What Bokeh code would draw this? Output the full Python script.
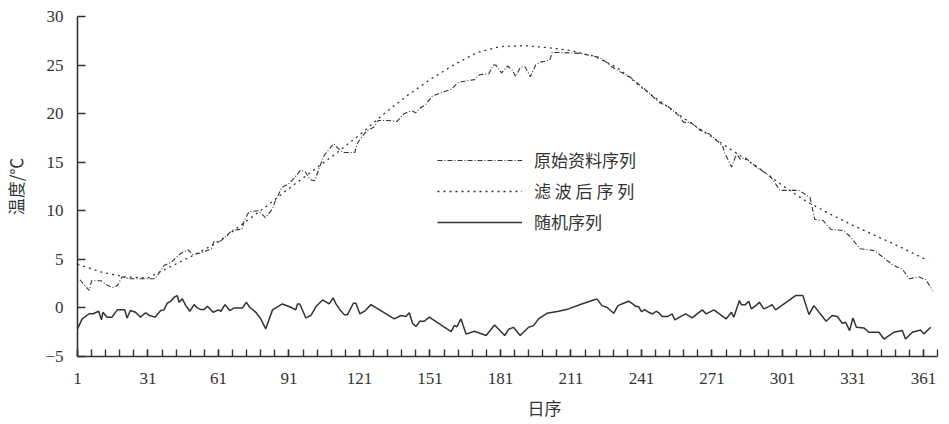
from bokeh.plotting import figure
from bokeh.models import Range1d, FixedTicker, Legend, LegendItem, Title
from bokeh.embed import file_html
from bokeh.resources import INLINE

# ---- data ----
orig_pts = [(2, 2.9), (6, 1.8), (7, 2.8), (11, 2.8), (14, 2.3), (16, 2.1), (18, 2.3), (20, 3.2),
            (23, 3.0), (28, 3.0), (34, 3.0), (38, 4.4), (41, 4.7), (43, 5.2), (45, 5.6), (48, 6.0),
            (50, 5.5), (54, 5.7), (58, 6.1), (59, 6.8), (62, 6.9), (67, 8.0), (71, 8.1), (72, 9.0),
            (74, 9.9), (78, 10.0), (81, 9.3), (84, 10.2), (85, 10.9), (88, 12.4), (91, 12.8), (93, 13.3),
            (96, 14.2), (98, 14.0), (100, 13.2), (102, 13.1), (104, 14.5), (106, 15.7), (110, 16.9),
            (112, 16.4), (114, 16.0), (119, 16.0), (120, 16.9), (122, 17.6), (124, 18.2), (127, 18.6),
            (129, 19.3), (133, 19.3), (137, 19.2), (140, 20.0), (143, 20.3), (145, 20.1), (147, 20.6),
            (149, 20.9), (152, 21.8), (156, 22.2), (160, 22.5), (163, 23.2), (167, 23.4), (170, 23.5),
            (172, 24.0), (176, 24.1), (178, 25.0), (179, 25.0), (181.5, 24.2), (184, 24.9), (186, 24.5),
            (187.5, 23.8), (189.5, 24.8), (191.5, 24.8), (193.7, 23.8), (196, 25.0), (198, 25.3),
            (202, 25.5), (203, 26.3), (206, 26.3), (215, 26.2), (223, 25.8), (226, 25.3), (228.5, 24.8),
            (232, 24.3), (236, 23.8), (242, 22.6), (247.5, 21.4), (249, 21.1), (252, 20.8), (257, 19.8),
            (259, 19.1), (262, 19.1), (266, 18.3), (270, 17.9), (275.5, 16.7), (276.5, 15.9),
            (279.4, 14.5), (281.5, 15.9), (283, 15.3), (285, 15.5), (290, 14.5), (296, 13.5),
            (300, 12.1), (304, 12.1), (308, 12.1), (312.7, 11.4), (314.8, 9.1), (318.3, 9.0),
            (321.5, 8.1), (327, 7.97), (330, 7.3), (334, 6.1), (340, 5.9), (344, 5.2), (348, 4.4),
            (352, 4.0), (355, 3.0), (359, 3.2), (362, 2.9), (365, 1.8)]

filt_days = [1, 11, 21, 31, 41, 51, 61, 71, 81, 91, 101, 111, 121, 131, 141, 151, 161, 171, 181,
             191, 201, 211, 221, 231, 241, 251, 261, 271, 281, 291, 301, 311, 321, 331, 341, 351, 361, 363]
filt_vals = [4.5, 3.7, 3.2, 3.1, 4.3, 5.5, 6.8, 8.6, 10.4, 12.3, 14.1, 15.9, 17.8, 19.9, 21.8, 23.5,
             25.0, 26.3, 26.9, 27.0, 26.8, 26.5, 25.9, 24.7, 22.7, 20.9, 19.2, 17.6, 16.0, 14.4, 12.6,
             11.0, 9.7, 8.5, 7.4, 6.3, 5.1, 4.9]

rand_pts = [(1, -2.15), (3, -1.12), (6, -0.6), (7.7, -0.6), (10, -0.34), (11.2, -1.23), (11.8, -0.45),
            (13.6, -0.95), (15.7, -0.95), (17.9, -0.2), (21.1, -0.2), (22.1, -1.03), (23.5, -0.27),
            (25.7, -0.44), (27.8, -0.95), (30, -0.5), (31.4, -0.75), (34, -0.95), (36.4, -0.27),
            (37.8, -0.2), (39.2, 0.48), (40.7, 0.69), (42.1, 1.1), (43.5, 1.27), (44.2, 0.58),
            (45.6, 0.93), (47.1, 0.24), (48.8, -0.34), (50.6, 0.34), (52, 0.0), (53.5, -0.17),
            (54.9, -0.17), (56.3, 0.17), (58.7, -0.45), (61, -0.2), (62, -0.34), (63.8, 0.34),
            (65.8, -0.27), (67.7, 0.0), (71.2, 0.0), (72.9, 0.58), (74.3, 0.07), (76.9, -0.45),
            (79, -1.13), (81.1, -2.15), (84, -0.2), (88.2, 0.41), (91.8, 0.07), (93.9, -0.2),
            (94.6, 0.41), (95.6, 0.41), (98.2, -1.03), (100.3, -0.78), (102.5, 0.14), (105.3, 0.82),
            (108.1, 0.41), (109.8, 1.03), (111, 0.41), (112.4, -0.1), (114.5, -0.69), (115.9, -0.69),
            (118.4, 0.48), (119.5, 0.48), (121.2, -0.62), (123.5, -0.27), (125.9, 0.34), (135.8, -1.13),
            (138.7, -0.78), (140.8, -0.89), (142.2, -0.5), (143.6, -1.57), (145, -1.92), (146.7, -1.37),
            (148.6, -1.37), (150.7, -0.95), (160, -2.45), (161.4, -1.8), (162.4, -1.96), (164.2, -1.13),
            (166.4, -2.7), (169.9, -2.4), (174.9, -2.84), (178.5, -1.75), (182.8, -2.84), (184.5, -2.2),
            (186.5, -2.0), (187.9, -2.4), (189.4, -2.84), (190.8, -2.5), (193, -1.99), (195.1, -1.82),
            (197.2, -1.13), (200.8, -0.55), (205.7, -0.34), (210, -0.1), (215.6, 0.41), (221.3, 0.86),
            (222, 0.93), (224.2, 0.24), (226.3, 0.07), (229.2, -0.55), (231, 0.24), (233.4, 0.48),
            (235.6, 0.69), (237.7, 0.34), (238.7, 0.14), (239.8, 0.14), (241, -0.38), (242.4, -0.17),
            (244.1, -0.45), (245.8, -0.62), (247.3, -0.34), (248.4, -0.5), (249.8, -0.89), (252, -0.89),
            (254.1, -0.62), (255.2, -1.23), (257.6, -0.89), (259.8, -0.62), (262.6, -1.03), (264.7, -0.62),
            (266.9, -0.2), (268.6, -0.62), (271.8, -0.2), (274.6, -0.69), (277, -1.13), (279.3, -0.45),
            (280.3, -0.95), (282.7, 0.76), (283.5, 0.34), (285.2, 0.34), (286.7, 0.69), (287.8, -0.1),
            (290.2, 0.34), (291.2, 0.58), (293.1, -0.1), (295.2, 0.14), (296.6, 0.34), (298.1, -0.2),
            (306.6, 1.27), (309.7, 1.27), (312.3, -0.69), (314.4, 0.24), (319.6, -1.37), (322.2, -0.78),
            (324.3, -0.89), (326.5, -1.57), (327.9, -1.47), (329.6, -2.33), (331, -1.03), (332.5, -1.99),
            (335.7, -2.06), (337.8, -2.5), (342.1, -2.5), (344.2, -3.2), (348.5, -2.5), (352, -2.33),
            (353.4, -3.2), (356.3, -2.5), (359.8, -2.27), (361.2, -2.67), (364.1, -1.99)]

x_label_ticks = [1, 31, 61, 91, 121, 151, 181, 211, 241, 271, 301, 331, 361]
x_minor_ticks = list(range(1, 368, 6))
y_ticks = [-5, 0, 5, 10, 15, 20, 25, 30]
series_names = ["原始资料序列", "滤 波 后 序 列", "随机序列"]
x_title = "日序"
y_title = "温度/℃"

orig_days = [d for d, v in orig_pts]
orig_vals = [v for d, v in orig_pts]
rand_days = [d for d, v in rand_pts]
rand_vals = [v for d, v in rand_pts]

INK = "#333333"
SERIF = "serif"
CJK = "Noto Sans CJK SC"

p = figure(frame_width=860, frame_height=340, output_backend="svg", toolbar_location=None,
           x_range=Range1d(1, 367), y_range=Range1d(-5, 30),
           min_border_left=70, min_border_right=3, min_border_top=16, min_border_bottom=30)
p.grid.visible = False
p.outline_line_color = None
p.background_fill_color = "white"

r_orig = p.line(orig_days, orig_vals, line_color=INK, line_width=1.1, line_dash="5 2 1 2")
r_filt = p.line(filt_days, filt_vals, line_color=INK, line_width=1.3, line_dash="2 4")
r_rand = p.line(rand_days, rand_vals, line_color=INK, line_width=1.5)

for ax in (p.xaxis[0], p.yaxis[0]):
    ax.axis_line_color = INK
    ax.axis_line_width = 1.6
    ax.major_tick_line_color = INK
    ax.major_tick_line_width = 1.4
    ax.minor_tick_line_color = INK
    ax.minor_tick_line_width = 1.4
    ax.major_tick_out = 0
    ax.minor_tick_out = 0
    ax.major_label_text_font = SERIF
    ax.major_label_text_font_size = "17px"
    ax.major_label_text_color = INK

xa = p.xaxis[0]
xa.ticker = FixedTicker(ticks=x_label_ticks, minor_ticks=x_minor_ticks)
xa.major_tick_in = 7
xa.minor_tick_in = 7
xa.major_label_standoff = 16

ya = p.yaxis[0]
ya.ticker = FixedTicker(ticks=y_ticks, minor_ticks=[])
ya.major_tick_in = 8
ya.minor_tick_in = 0
ya.major_label_standoff = 14
ya.major_label_overrides = {-5: "\u22125"}
ya.axis_label = y_title
ya.axis_label_text_font = CJK
ya.axis_label_text_font_size = "17px"
ya.axis_label_text_font_style = "normal"
ya.axis_label_text_color = INK
ya.axis_label_standoff = 14

# x-axis title, a little right of the centre as in the original
p.add_layout(Title(text=x_title, align="left", offset=450, text_font=CJK,
                   text_font_size="17px", text_font_style="normal", text_color=INK,
                   standoff=12), "below")

legend = Legend(items=[LegendItem(label=series_names[0], renderers=[r_orig]),
                       LegendItem(label=series_names[1], renderers=[r_filt]),
                       LegendItem(label=series_names[2], renderers=[r_rand])],
                location=(360, 122), orientation="vertical",
                glyph_width=85, glyph_height=20, label_height=20, label_standoff=12,
                spacing=6, padding=0, margin=0,
                label_text_font=CJK, label_text_font_size="17px", label_text_color=INK,
                border_line_alpha=0, background_fill_alpha=0)
p.add_layout(legend, "center")

open("out.html", "w").write(file_html(p, INLINE))
